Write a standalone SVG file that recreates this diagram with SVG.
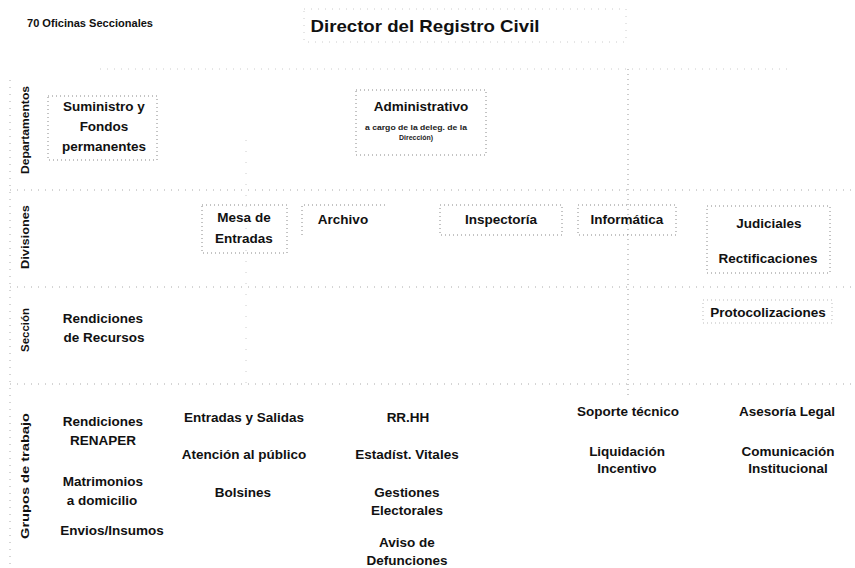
<svg xmlns="http://www.w3.org/2000/svg" width="855" height="568" viewBox="0 0 855 568">
<style>
.t{font-family:"Liberation Sans",Arial,sans-serif;font-weight:bold;font-size:13.5px;fill:#111;text-anchor:middle}
.s{font-family:"Liberation Sans",Arial,sans-serif;font-weight:bold;font-size:7px;fill:#222;text-anchor:middle}
.r{font-family:"Liberation Sans",Arial,sans-serif;font-weight:bold;font-size:10.5px;fill:#111;text-anchor:middle}
.box{fill:none;stroke:#888;stroke-width:1;stroke-dasharray:1 3}
.sep{fill:none;stroke:#aaa;stroke-width:1;stroke-dasharray:1 6}
.con{fill:none;stroke:#aaa;stroke-width:1;stroke-dasharray:1 6}
</style>
<rect width="855" height="568" fill="#fff"/>
<g id="separators">
<line class="sep" x1="10" y1="80" x2="10" y2="568"/>
<line class="sep" x1="10" y1="190" x2="855" y2="190"/>
<line class="sep" x1="10" y1="287" x2="855" y2="287"/>
<line class="sep" x1="10" y1="384" x2="855" y2="384"/>
</g>
<g id="connectors">
<line class="con" x1="100" y1="69" x2="790" y2="69" style="stroke:#ccc"/>
<line class="con" x1="628" y1="69" x2="628" y2="395" style="stroke:#999;stroke-dasharray:1 4"/>
<line class="con" x1="246" y1="140" x2="246" y2="390" style="stroke:#ccc;stroke-dasharray:1 10"/>
</g>
<g id="row-labels">
<text class="r" transform="translate(29,130) rotate(-90)" textLength="88" lengthAdjust="spacingAndGlyphs">Departamentos</text>
<text class="r" transform="translate(29,237) rotate(-90)" textLength="64" lengthAdjust="spacingAndGlyphs">Divisiones</text>
<text class="r" transform="translate(29,330) rotate(-90)" textLength="44" lengthAdjust="spacingAndGlyphs">Sección</text>
<text class="r" transform="translate(29,476) rotate(-90)" textLength="126" lengthAdjust="spacingAndGlyphs">Grupos de trabajo</text>
</g>
<g id="oficinas">
<text x="90" y="27" class="t" style="font-size:10px" textLength="126" lengthAdjust="spacingAndGlyphs">70 Oficinas Seccionales</text>
</g>
<g id="director">
<rect class="box" x="304" y="9" width="322" height="33" style="stroke:#ccc;stroke-dasharray:1 6"/>
<text x="425" y="32" class="t" style="font-size:17px" textLength="229" lengthAdjust="spacingAndGlyphs">Director del Registro Civil</text>
</g>
<g id="suministro">
<rect class="box" x="48" y="96" width="109" height="64"/>
<text x="104" y="111" class="t">Suministro y</text>
<text x="104" y="131" class="t">Fondos</text>
<text x="104" y="151" class="t">permanentes</text>
</g>
<g id="administrativo">
<rect class="box" x="356" y="90" width="130" height="65"/>
<text x="421" y="111" class="t">Administrativo</text>
<text x="416" y="130" class="s" textLength="102" lengthAdjust="spacingAndGlyphs">a cargo de la deleg. de la</text>
<text x="416" y="140" class="s" textLength="34" lengthAdjust="spacingAndGlyphs">Dirección)</text>
</g>
<g id="mesa">
<rect class="box" x="202" y="205" width="85" height="48"/>
<text x="244" y="222" class="t">Mesa de</text>
<text x="244" y="243" class="t">Entradas</text>
</g>
<g id="archivo">
<path class="box" d="M302 235 V205 H387"/>
<text x="343" y="224" class="t">Archivo</text>
</g>
<g id="inspectoria">
<rect class="box" x="440" y="205" width="122" height="30"/>
<text x="501" y="224" class="t">Inspectoría</text>
</g>
<g id="informatica">
<rect class="box" x="578" y="205" width="98" height="30"/>
<text x="627" y="224" class="t">Informática</text>
</g>
<g id="judiciales">
<rect class="box" x="707" y="206" width="123" height="67"/>
<text x="769" y="228" class="t">Judiciales</text>
<text x="768" y="263" class="t">Rectificaciones</text>
</g>
<g id="rendiciones-recursos">
<text x="103" y="323" class="t">Rendiciones</text>
<text x="104" y="342" class="t">de Recursos</text>
</g>
<g id="protocolizaciones">
<rect class="box" x="703" y="300" width="129" height="23" style="stroke:#bbb"/>
<text x="768" y="317" class="t">Protocolizaciones</text>
</g>
<g id="grupo-col1">
<text x="103" y="426" class="t">Rendiciones</text>
<text x="103" y="445" class="t">RENAPER</text>
<text x="103" y="486" class="t">Matrimonios</text>
<text x="102" y="505" class="t">a domicilio</text>
<text x="112" y="535" class="t">Envios/Insumos</text>
</g>
<g id="grupo-col2">
<text x="244" y="422" class="t">Entradas y Salidas</text>
<text x="244" y="459" class="t">Atención al público</text>
<text x="243" y="497" class="t">Bolsines</text>
</g>
<g id="grupo-col3">
<text x="408" y="422" class="t">RR.HH</text>
<text x="407" y="459" class="t">Estadíst. Vitales</text>
<text x="407" y="497" class="t">Gestiones</text>
<text x="407" y="515" class="t">Electorales</text>
<text x="407" y="547" class="t">Aviso de</text>
<text x="407" y="565" class="t">Defunciones</text>
</g>
<g id="grupo-col4">
<text x="628" y="416" class="t">Soporte técnico</text>
<text x="627" y="456" class="t">Liquidación</text>
<text x="627" y="473" class="t">Incentivo</text>
</g>
<g id="grupo-col5">
<text x="787" y="416" class="t">Asesoría Legal</text>
<text x="788" y="456" class="t">Comunicación</text>
<text x="788" y="473" class="t">Institucional</text>
</g>
</svg>
